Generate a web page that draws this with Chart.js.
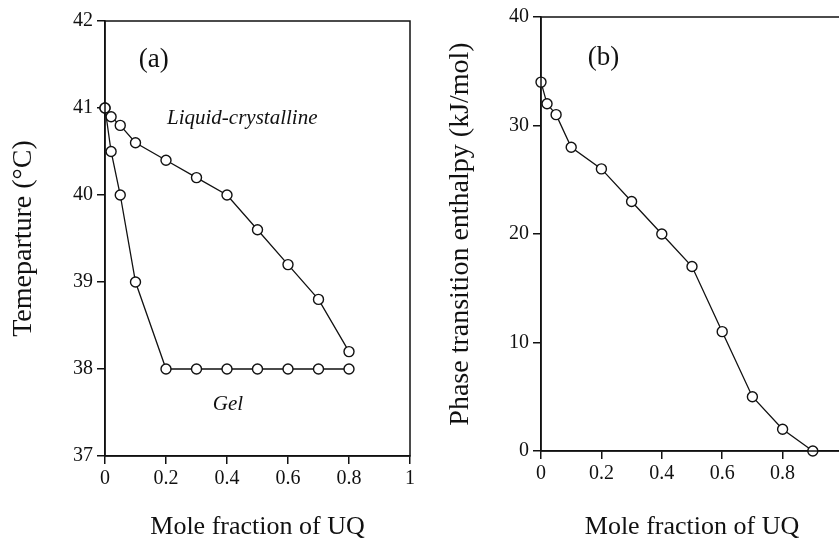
<!DOCTYPE html>
<html>
<head>
<meta charset="utf-8">
<script src="https://cdn.jsdelivr.net/npm/chart.js@4.4.1/dist/chart.umd.min.js"></script>
<style>
  html, body { margin: 0; padding: 0; background: #fff; overflow: hidden; width: 839px; height: 543px; }
  #wrapA { position: absolute; left: 0; top: 0; width: 430px; height: 543px; }
  #wrapB { position: absolute; left: 420px; top: 0; width: 440px; height: 543px; }
</style>
</head>
<body>
<div id="wrapA"><canvas id="chartA" width="430" height="543"></canvas></div>
<div id="wrapB"><canvas id="chartB" width="440" height="543"></canvas></div>
<script>
// ---------- Data ----------
// Panel (a): phase diagram
const fluidusX = [0, 0.02, 0.05, 0.1, 0.2, 0.3, 0.4, 0.5, 0.6, 0.7, 0.8];
const fluidusT = [41.0, 40.9, 40.8, 40.6, 40.4, 40.2, 40.0, 39.6, 39.2, 38.8, 38.2];
const solidusX = [0, 0.02, 0.05, 0.1, 0.2, 0.3, 0.4, 0.5, 0.6, 0.7, 0.8];
const solidusT = [41.0, 40.5, 40.0, 39.0, 38.0, 38.0, 38.0, 38.0, 38.0, 38.0, 38.0];
// Panel (b): transition enthalpy
const enthalpyX = [0, 0.02, 0.05, 0.1, 0.2, 0.3, 0.4, 0.5, 0.6, 0.7, 0.8, 0.9];
const enthalpyH = [34, 32, 31, 28, 26, 23, 20, 17, 11, 5, 2, 0];
// Tick labels
const xTickValues = [0, 0.2, 0.4, 0.6, 0.8, 1];
const xTickLabels = ['0', '0.2', '0.4', '0.6', '0.8', '1'];
const yTickValuesA = [37, 38, 39, 40, 41, 42];
const yTickLabelsA = ['37', '38', '39', '40', '41', '42'];
const yTickValuesB = [0, 10, 20, 30, 40];
const yTickLabelsB = ['0', '10', '20', '30', '40'];

// ---------- Styling ----------
const INK = '#111';
const SERIF = "'Liberation Serif', 'Times New Roman', serif";
Chart.defaults.font.family = SERIF;
Chart.defaults.color = INK;

function pts(xs, ys) { return xs.map((x, i) => ({ x: x, y: ys[i] })); }

function lineDataset(data) {
  return {
    data: data,
    showLine: true,
    tension: 0,
    borderColor: INK,
    borderWidth: 1.3,
    pointRadius: 5,
    pointHoverRadius: 5,
    pointBackgroundColor: '#fff',
    pointBorderColor: INK,
    pointBorderWidth: 1.4,
    clip: false
  };
}

const framePlugin = {
  id: 'frame',
  afterDraw(chart) {
    const a = chart.chartArea, ctx = chart.ctx;
    ctx.save();
    ctx.strokeStyle = INK;
    ctx.lineWidth = 1.5;
    ctx.strokeRect(a.left, a.top, a.right - a.left, a.bottom - a.top);
    ctx.restore();
  }
};

const labelPlugin = {
  id: 'labels',
  afterDraw(chart, args, opts) {
    const ctx = chart.ctx, xs = chart.scales.x, ys = chart.scales.y;
    ctx.save();
    ctx.fillStyle = INK;
    (opts.items || []).forEach(it => {
      ctx.font = it.font;
      ctx.textAlign = 'center';
      ctx.textBaseline = it.baseline || 'alphabetic';
      ctx.fillText(it.text, xs.getPixelForValue(it.x), ys.getPixelForValue(it.y));
    });
    ctx.restore();
  }
};

function xScale(height) {
  return {
    type: 'linear', min: 0, max: 1,
    afterBuildTicks: s => { s.ticks = xTickValues.map(v => ({ value: v })); },
    afterFit: s => { s.height = height; },
    ticks: { font: { size: 20 }, color: INK, padding: 3, maxRotation: 0,
             callback: (v, i) => xTickLabels[i] },
    grid: { display: true, drawOnChartArea: false, drawTicks: true, tickLength: 8, color: INK, lineWidth: 1.5 },
    border: { display: true, color: INK, width: 1.5 },
    title: { display: true, text: 'Mole fraction of UQ', font: { size: 26 }, color: INK, padding: { top: 0, bottom: 0 } }
  };
}

function yScale(min, max, vals, labels, width, title, titlePad) {
  return {
    type: 'linear', min: min, max: max,
    afterBuildTicks: s => { s.ticks = vals.map(v => ({ value: v })); },
    afterFit: s => { s.width = width; },
    ticks: { font: { size: 20 }, color: INK, padding: 4,
             callback: (v, i) => labels[i] },
    grid: { display: true, drawOnChartArea: false, drawTicks: true, tickLength: 8, color: INK, lineWidth: 1.5 },
    border: { display: true, color: INK, width: 1.5 },
    title: { display: true, text: title, font: { size: 28 }, color: INK, padding: { top: titlePad, bottom: 0 } }
  };
}

const commonOpts = {
  responsive: false,
  animation: false,
  devicePixelRatio: 1,
  events: [],
  plugins: { legend: { display: false }, tooltip: { enabled: false } }
};

new Chart(document.getElementById('chartA'), {
  type: 'scatter',
  data: { datasets: [ lineDataset(pts(fluidusX, fluidusT)), lineDataset(pts(solidusX, solidusT)) ] },
  options: Object.assign({}, commonOpts, {
    layout: { autoPadding: false, padding: { top: 21, right: 20, left: 0, bottom: 0 } },
    scales: {
      x: xScale(87),
      y: yScale(37, 42, yTickValuesA, yTickLabelsA, 105, 'Temeparture (°C)', 7)
    },
    plugins: Object.assign({}, commonOpts.plugins, {
      labels: { items: [
        { text: '(a)', x: 0.16, y: 41.55, font: "27px " + SERIF, baseline: 'middle' },
        { text: 'Liquid-crystalline', x: 0.45, y: 40.82, font: "italic 21px " + SERIF },
        { text: 'Gel', x: 0.403, y: 37.53, font: "italic 21px " + SERIF }
      ] }
    })
  }),
  plugins: [framePlugin, labelPlugin]
});

new Chart(document.getElementById('chartB'), {
  type: 'scatter',
  data: { datasets: [ lineDataset(pts(enthalpyX, enthalpyH)) ] },
  options: Object.assign({}, commonOpts, {
    layout: { autoPadding: false, padding: { top: 17, right: 17, left: 0, bottom: 0 } },
    scales: {
      x: xScale(92),
      y: yScale(0, 40, yTickValuesB, yTickLabelsB, 121, 'Phase transition enthalpy (kJ/mol)', 24)
    },
    plugins: Object.assign({}, commonOpts.plugins, {
      labels: { items: [
        { text: '(b)', x: 0.207, y: 36.2, font: "27px " + SERIF, baseline: 'middle' }
      ] }
    })
  }),
  plugins: [framePlugin, labelPlugin]
});
</script>
</body>
</html>
